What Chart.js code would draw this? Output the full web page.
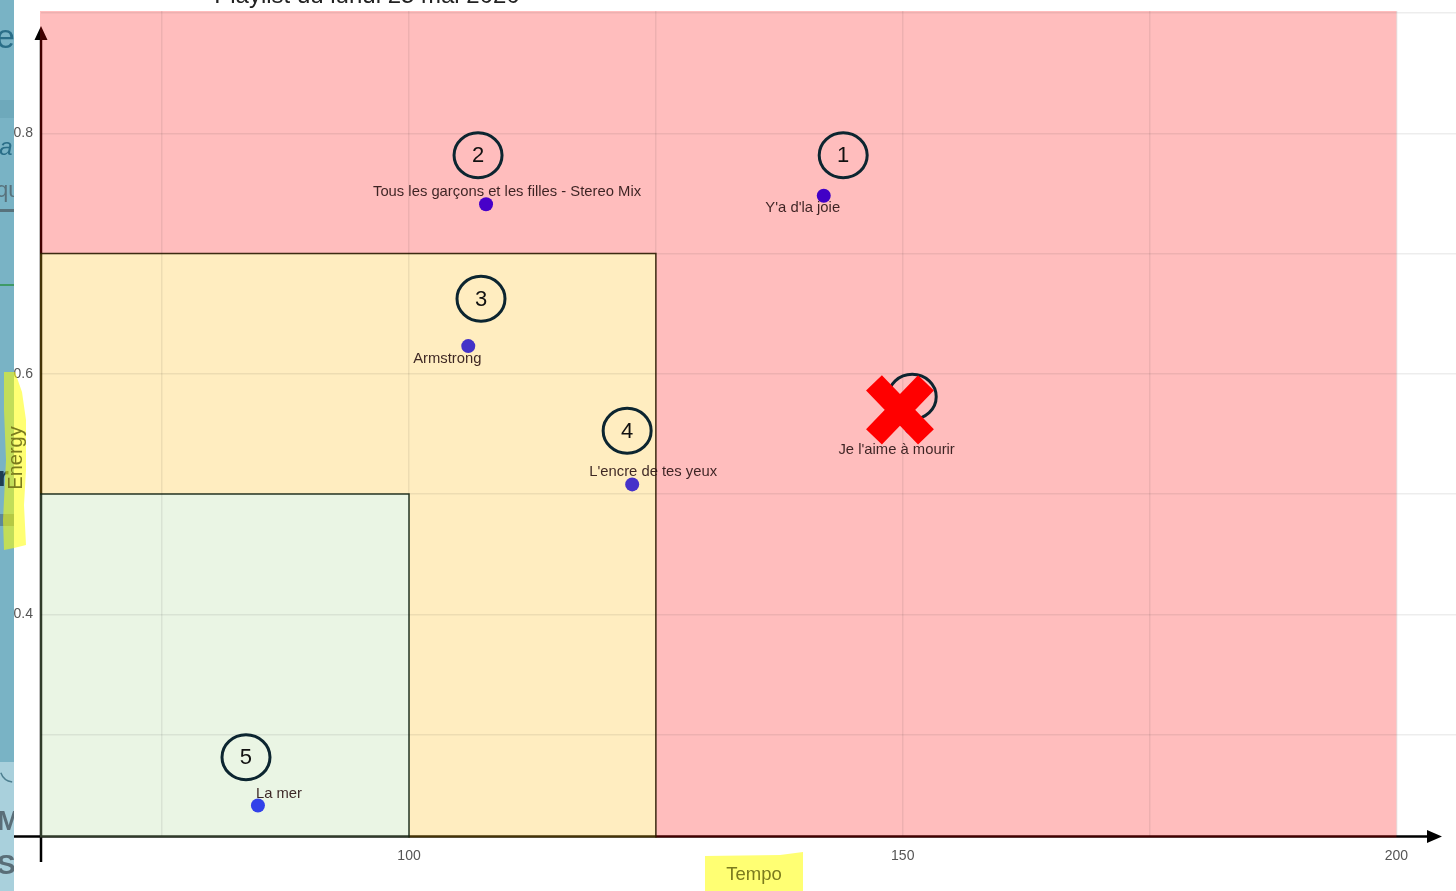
<!DOCTYPE html>
<html>
<head>
<meta charset="utf-8">
<title>Playlist du lundi 25 mai 2020</title>
<script src="https://cdn.jsdelivr.net/npm/chart.js@4.4.1/dist/chart.umd.min.js"></script>
<style>
  html, body { margin: 0; padding: 0; background: #fff; overflow: hidden; }
  #wrap { position: relative; width: 1456px; height: 891px; }
</style>
</head>
<body>
<div id="wrap"><canvas id="chart" width="1456" height="891"></canvas></div>
<script>
// --- data ---
const titles = ["Y'a d'la joie", "Tous les garçons et les filles - Stereo Mix", "Armstrong", "L'encre de tes yeux", "La mer", "Je l'aime à mourir"];
const tempo = [142.0, 107.8, 106.0, 122.6, 84.7, 150.9];
const energy = [0.748, 0.741, 0.623, 0.508, 0.241, 0.555];
const ranks = [1, 2, 3, 4, 5, 6];

// hand drawn circles (rank) and the red cross, in data units
const circleTempo = [143.97, 106.99, 107.29, 122.09, 83.49, 150.96];
const circleEnergy = [0.7817, 0.7817, 0.6624, 0.5526, 0.2811, 0.5809];
const crossTempo = [149.72];
const crossEnergy = [0.570];

// zones : rouge / jaune / vert
const zoneTempoMax = [200, 125, 100];
const zoneEnergyMax = [0.9017, 0.7, 0.5];

const xTickLabels = [100, 150, 200];
const yTickLabels = [0.4, 0.6, 0.8];
const xRange = [62.73, 206.03];
const yRange = [0.2156, 0.9017];

// --- styles ---
const FONT = '"Liberation Sans", Arial, sans-serif';
const pointColors = ['#4100c6', '#4700c9', '#4332c8', '#4632c9', '#3241e9', '#4a12c8'];
// label offsets from the dot, in px
const labelDx = [-21, 21, -21, 21, 21, -15];
const labelDy = [12, -12, 13, -12, -12, 22];
const zoneFills = ['rgba(255,0,0,0.26)', 'rgba(255,188,24,0.27)', 'rgba(178,218,155,0.27)'];
const zoneLines = [null, 'rgba(45,28,0,0.9)', 'rgba(20,38,20,0.9)'];

const decorPlugin = {
  id: 'decor',
  beforeDraw(chart) {
    const { ctx, chartArea: a, scales: { x, y } } = chart;
    ctx.save();
    // axis lines with arrows
    ctx.strokeStyle = '#000';
    ctx.fillStyle = '#000';
    ctx.lineWidth = 2.5;
    ctx.beginPath();
    ctx.moveTo(a.left, 38); ctx.lineTo(a.left, a.bottom + 26);
    ctx.moveTo(14, a.bottom + 0.5); ctx.lineTo(1428, a.bottom + 0.5);
    ctx.stroke();
    ctx.beginPath();
    ctx.moveTo(a.left, 26); ctx.lineTo(a.left - 6.5, 40); ctx.lineTo(a.left + 6.5, 40); ctx.closePath();
    ctx.moveTo(1442, a.bottom + 0.5); ctx.lineTo(1427, a.bottom - 6); ctx.lineTo(1427, a.bottom + 7); ctx.closePath();
    ctx.fill();

    // zones, each minus the next smaller one
    const bottom = a.bottom + 1.5;
    const left = a.left - 1;
    for (let i = 0; i < zoneTempoMax.length; i++) {
      const r = x.getPixelForValue(zoneTempoMax[i]);
      const t = y.getPixelForValue(zoneEnergyMax[i]);
      ctx.beginPath();
      ctx.rect(left, t, r - left, bottom - t);
      if (i + 1 < zoneTempoMax.length) {
        const r2 = x.getPixelForValue(zoneTempoMax[i + 1]);
        const t2 = y.getPixelForValue(zoneEnergyMax[i + 1]);
        ctx.rect(left, t2, r2 - left, bottom - t2);
      }
      ctx.fillStyle = zoneFills[i];
      ctx.fill('evenodd');
    }
    for (let i = 0; i < zoneTempoMax.length; i++) {
      if (!zoneLines[i]) continue;
      const r = x.getPixelForValue(zoneTempoMax[i]);
      const t = y.getPixelForValue(zoneEnergyMax[i]);
      ctx.strokeStyle = zoneLines[i];
      ctx.lineWidth = 1.5;
      ctx.beginPath();
      ctx.moveTo(left, t); ctx.lineTo(r, t); ctx.lineTo(r, bottom);
      ctx.stroke();
    }
    ctx.restore();
  },
  afterDatasetsDraw(chart) {
    const { ctx } = chart;
    const meta = chart.getDatasetMeta(0);
    ctx.save();
    ctx.font = '14.8px ' + FONT;
    ctx.fillStyle = 'rgba(45,22,22,0.92)';
    ctx.textAlign = 'center';
    ctx.textBaseline = 'middle';
    meta.data.forEach((pt, i) => {
      ctx.fillText(titles[i], pt.x + labelDx[i], pt.y + labelDy[i]);
    });
    ctx.restore();
  },
  afterDraw(chart) {
    const { ctx, scales: { x, y } } = chart;
    ctx.save();
    // title, cut at the top of the screenshot
    ctx.font = '24px ' + FONT;
    ctx.fillStyle = '#222';
    ctx.textAlign = 'center';
    ctx.textBaseline = 'alphabetic';
    ctx.fillText('Playlist du lundi 25 mai 2020', 367, 3);

    // rank circles
    ctx.lineWidth = 3;
    ctx.strokeStyle = '#0c2530';
    ctx.fillStyle = '#111';
    ctx.font = '22px ' + FONT;
    ctx.textBaseline = 'middle';
    ranks.forEach((rk, i) => {
      const cx = x.getPixelForValue(circleTempo[i]);
      const cy = y.getPixelForValue(circleEnergy[i]);
      ctx.beginPath();
      ctx.ellipse(cx, cy, 24, 22.5, 0, 0, Math.PI * 2);
      ctx.stroke();
      ctx.fillText(String(rk), cx, cy + 1);
    });

    // red cross
    ctx.strokeStyle = '#ff0000';
    ctx.lineWidth = 22;
    ctx.lineCap = 'butt';
    crossTempo.forEach((t, i) => {
      const cx = x.getPixelForValue(t);
      const cy = y.getPixelForValue(crossEnergy[i]);
      ctx.beginPath();
      ctx.moveTo(cx - 26, cy - 27); ctx.lineTo(cx + 26, cy + 27);
      ctx.moveTo(cx + 26, cy - 27); ctx.lineTo(cx - 26, cy + 27);
      ctx.stroke();
    });

    // left strip of another window
    ctx.fillStyle = '#79b3c5';
    ctx.fillRect(0, 0, 14, 762);
    ctx.fillStyle = '#a9d0dc';
    ctx.fillRect(0, 762, 14, 129);
    ctx.fillStyle = '#6ea9bb';
    ctx.fillRect(0, 100, 14, 18);
    ctx.beginPath(); ctx.rect(0, 0, 14, 891); ctx.clip();
    ctx.textAlign = 'left';
    ctx.textBaseline = 'alphabetic';
    ctx.fillStyle = '#2a6e88';
    ctx.font = '34px ' + FONT;
    ctx.fillText('e', -4, 48);
    ctx.font = 'italic 24px ' + FONT;
    ctx.fillText('la', -6, 155);
    ctx.fillStyle = '#58727c';
    ctx.font = '22px ' + FONT;
    ctx.fillText('qu', -4, 197);
    ctx.fillRect(0, 209, 14, 3);
    ctx.fillStyle = '#3f9a66';
    ctx.fillRect(0, 284, 14, 2);
    ctx.fillStyle = '#1d3d52';
    ctx.font = 'bold 28px ' + FONT;
    ctx.fillText('r', -2, 486);
    ctx.fillStyle = '#5e8898';
    ctx.fillRect(0, 514, 14, 12);
    ctx.fillStyle = '#5a6e78';
    ctx.font = 'bold 28px ' + FONT;
    ctx.fillText('MI', -3, 830);
    ctx.fillText('SC', -3, 874);
    ctx.strokeStyle = '#4d7f90';
    ctx.lineWidth = 1.5;
    ctx.beginPath(); ctx.arc(14, 730, 14, 0.2, 1.4); ctx.stroke();
    ctx.beginPath(); ctx.arc(14, 768, 14, 1.7, 2.8); ctx.stroke();
    ctx.restore();

    // highlighted axis titles
    ctx.save();
    ctx.fillStyle = 'rgba(255,255,0,0.55)';
    ctx.beginPath();
    ctx.moveTo(4, 372); ctx.lineTo(15, 372); ctx.lineTo(22, 392); ctx.lineTo(26, 420);
    ctx.lineTo(26, 470); ctx.lineTo(24, 505); ctx.lineTo(26, 545); ctx.lineTo(14, 548);
    ctx.lineTo(4, 550); ctx.lineTo(3, 520); ctx.lineTo(6, 460); ctx.lineTo(4, 410);
    ctx.closePath(); ctx.fill();
    ctx.beginPath();
    ctx.moveTo(705, 856); ctx.lineTo(780, 855); ctx.lineTo(803, 852);
    ctx.lineTo(803, 891); ctx.lineTo(705, 891); ctx.closePath(); ctx.fill();

    ctx.fillStyle = '#7b7b1e';
    ctx.font = '18.5px ' + FONT;
    ctx.textAlign = 'center';
    ctx.textBaseline = 'middle';
    ctx.fillText('Tempo', 754, 875);
    ctx.font = '20px ' + FONT;
    ctx.translate(16, 458);
    ctx.rotate(-Math.PI / 2);
    ctx.fillText('Energy', 0, 0);
    ctx.restore();
  }
};

const points = tempo.map((t, i) => ({ x: t, y: energy[i] }));

new Chart(document.getElementById('chart').getContext('2d'), {
  type: 'scatter',
  data: {
    datasets: [{
      label: 'Titres',
      data: points,
      pointRadius: 7,
      pointHoverRadius: 7,
      pointBorderWidth: 0,
      pointBackgroundColor: pointColors
    }]
  },
  options: {
    responsive: false,
    animation: false,
    events: [],
    layout: { autoPadding: false, padding: { top: 11, left: 0, right: 0, bottom: 0 } },
    plugins: { legend: { display: false }, tooltip: { enabled: false } },
    scales: {
      x: {
        type: 'linear',
        min: xRange[0],
        max: xRange[1],
        border: { display: false },
        grid: { color: 'rgba(0,0,0,0.07)', lineWidth: 1.5, drawTicks: false },
        ticks: {
          stepSize: 25,
          includeBounds: false,
          padding: 12,
          autoSkip: false,
          maxRotation: 0,
          color: '#555',
          font: { family: FONT, size: 14 },
          callback: (v) => xTickLabels.includes(v) ? String(v) : ''
        },
        afterFit: (s) => { s.height = 55; s.paddingLeft = 0; s.paddingRight = 0; }
      },
      y: {
        type: 'linear',
        min: yRange[0],
        max: yRange[1],
        border: { display: false },
        grid: { color: 'rgba(0,0,0,0.07)', lineWidth: 1.5, drawTicks: false },
        ticks: {
          stepSize: 0.1,
          includeBounds: false,
          padding: 8,
          autoSkip: false,
          color: '#555',
          font: { family: FONT, size: 14 },
          callback: (v) => yTickLabels.some(l => Math.abs(l - v) < 1e-6) ? v.toFixed(1) : ''
        },
        afterFit: (s) => { s.width = 41; s.paddingTop = 0; s.paddingBottom = 0; }
      }
    }
  },
  plugins: [decorPlugin]
});
</script>
</body>
</html>
